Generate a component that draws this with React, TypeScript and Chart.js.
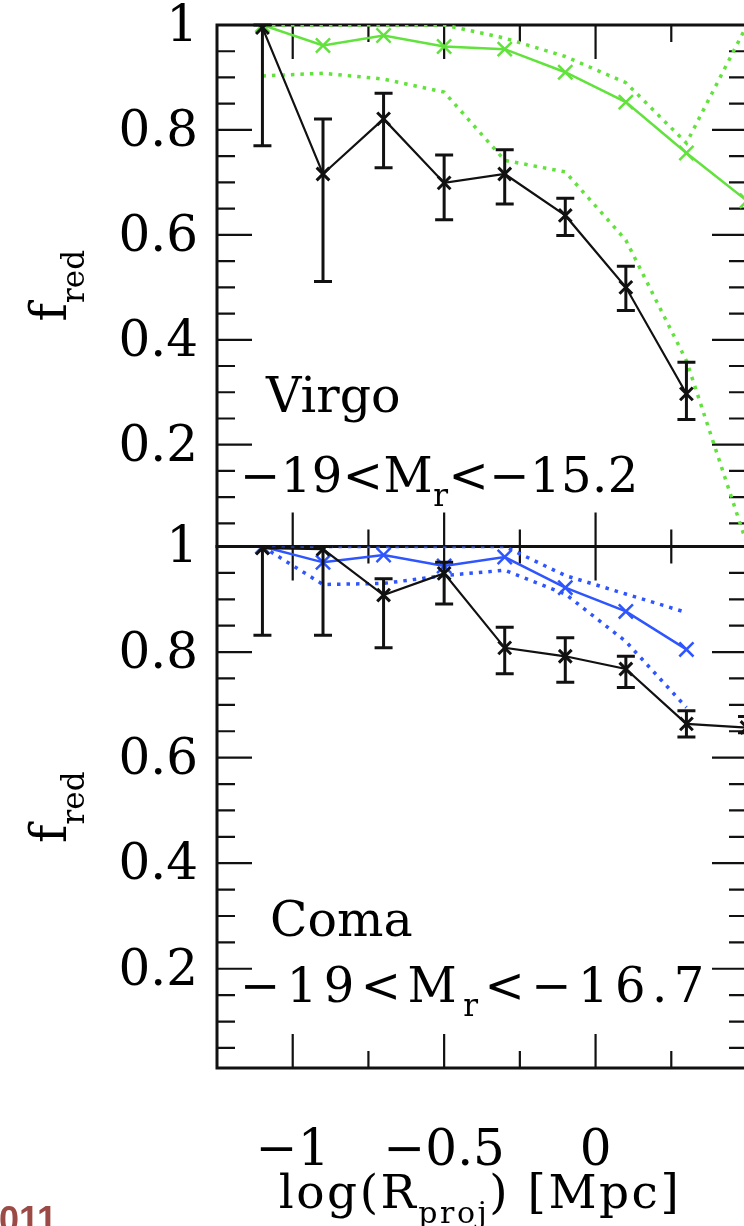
import React, { useEffect, useRef } from 'react';
import { Chart, registerables } from 'chart.js';

Chart.register(...registerables);

// ---- data ----
const R_BINS = [-1.1, -0.9, -0.7, -0.5, -0.3, -0.1, 0.1, 0.3, 0.5];
const X_TICK_LABELS = [-1, -0.5, 0];
const Y_TICK_LABELS = [0.2, 0.4, 0.6, 0.8, 1];

// Virgo (top panel)
const VIRGO_OBS = [0.995, 0.716, 0.821, 0.699, 0.716, 0.637, 0.5, 0.297];
const VIRGO_OBS_HI = [1.0, 0.821, 0.87, 0.752, 0.762, 0.67, 0.54, 0.357];
const VIRGO_OBS_LO = [0.77, 0.511, 0.728, 0.629, 0.659, 0.599, 0.456, 0.248];
const VIRGO_MODEL = [1.0, 0.961, 0.98, 0.959, 0.954, 0.91, 0.853, 0.756, 0.665];
const VIRGO_MODEL_UP = [1.0, 1.0, 1.0, 1.0, 0.975, 0.94, 0.89, 0.775, 1.0];
const VIRGO_MODEL_LO = [0.903, 0.908, 0.897, 0.872, 0.742, 0.72, 0.59, 0.36, 0.01];

// Coma (bottom panel)
const COMA_OBS = [0.997, 0.995, 0.908, 0.949, 0.808, 0.792, 0.768, 0.664, 0.657];
const COMA_OBS_HI = [1.0, 1.0, 0.939, 0.97, 0.847, 0.827, 0.792, 0.689, 0.678];
const COMA_OBS_LO = [0.832, 0.832, 0.808, 0.891, 0.759, 0.743, 0.733, 0.639, 0.647];
const COMA_MODEL = [1.0, 0.97, 0.984, 0.963, 0.98, 0.922, 0.877, 0.805];
const COMA_MODEL_UP = [1.0, 1.0, 1.0, 1.0, 1.0, 0.945, 0.91, 0.875];
const COMA_MODEL_LO = [1.0, 0.928, 0.93, 0.945, 0.955, 0.91, 0.82, 0.695];

// ---- styles ----
const FONT = '"DejaVu Serif", serif';
const GREEN = '#62e23c';
const BLUE = '#2f55ff';
const BLACK = '#111111';

const pts = (ys: number[]) => ys.map((y, i) => ({ x: R_BINS[i], y }));

function fmt(v: number): string {
  if (v === 0) return '0';
  return (v < 0 ? '\u2212' : '') + String(Math.abs(v));
}

type Part = { t: string; sub?: boolean };

function drawRich(
  ctx: CanvasRenderingContext2D,
  parts: Part[],
  x: number,
  y: number,
  size: number,
  subSize: number,
  subDy: number,
  align: 'left' | 'center' = 'left',
  spacing = 0
) {
  ctx.textAlign = 'left';
  ctx.textBaseline = 'alphabetic';
  const c: any = ctx;
  c.letterSpacing = `${spacing}px`;
  let w = 0;
  const ws: number[] = [];
  for (const p of parts) {
    ctx.font = `${p.sub ? subSize : size}px ${FONT}`;
    const m = ctx.measureText(p.t).width;
    ws.push(m);
    w += m;
  }
  let cx = align === 'center' ? x - w / 2 : x;
  parts.forEach((p, i) => {
    ctx.font = `${p.sub ? subSize : size}px ${FONT}`;
    ctx.fillText(p.t, cx, y + (p.sub ? subDy : 0));
    cx += ws[i];
  });
  c.letterSpacing = '0px';
}

function clipPanel(ctx: CanvasRenderingContext2D, ca: any, ys: any) {
  ctx.beginPath();
  ctx.rect(ca.left, ys.top - 2, ca.right - ca.left, ys.bottom - ys.top + 4);
  ctx.clip();
}

const panelPlugin = {
  id: 'panelPlugin',
  beforeDatasetsDraw(chart: any) {
    // frames and inward ticks (drawn under the data)
    const ctx = chart.ctx as CanvasRenderingContext2D;
    const ca = chart.chartArea;
    const xs = chart.scales.x;
    ctx.save();
    ctx.strokeStyle = BLACK;
    for (const id of ['yTop', 'yBot']) {
      const ys = chart.scales[id];
      const top = ys.top;
      const bot = ys.bottom;
      const left = ca.left;
      const right = ca.right;
      ctx.lineWidth = 2.2;
      ctx.beginPath();
      for (let k = 1; k < 7; k++) {
        const v = -1.25 + k * 0.25;
        const px = xs.getPixelForValue(v);
        const major = Math.abs(v * 2 - Math.round(v * 2)) < 1e-6;
        const len = major ? 34 : 17;
        ctx.moveTo(px, top);
        ctx.lineTo(px, top + len);
        ctx.moveTo(px, bot);
        ctx.lineTo(px, bot - len);
      }
      for (let k = 1; k < 20; k++) {
        const v = k * 0.05;
        const py = ys.getPixelForValue(v);
        const len = k % 4 === 0 ? 35 : 18;
        ctx.moveTo(left, py);
        ctx.lineTo(left + len, py);
        ctx.moveTo(right, py);
        ctx.lineTo(right - len, py);
      }
      ctx.stroke();
      ctx.lineWidth = 3;
      ctx.strokeRect(left, top, right - left, bot - top);
    }
    ctx.restore();
  },
  beforeDatasetDraw(chart: any, args: any) {
    const ys = chart.scales[args.meta.yAxisID];
    const ctx = chart.ctx;
    ctx.save();
    clipPanel(ctx, chart.chartArea, ys);
  },
  afterDatasetDraw(chart: any) {
    chart.ctx.restore();
  },
  afterDatasetsDraw(chart: any) {
    const ctx = chart.ctx as CanvasRenderingContext2D;
    const ca = chart.chartArea;
    const xs = chart.scales.x;

    // error bars
    chart.data.datasets.forEach((ds: any) => {
      if (!ds.errLow) return;
      const ys = chart.scales[ds.yAxisID];
      ctx.save();
      clipPanel(ctx, ca, ys);
      ctx.strokeStyle = ds.borderColor;
      ctx.lineWidth = 3;
      ds.errLow.forEach((lo: number, j: number) => {
        const hi = ds.errHigh[j];
        const px = xs.getPixelForValue(R_BINS[j]);
        const pl = ys.getPixelForValue(lo);
        const ph = ys.getPixelForValue(hi);
        ctx.beginPath();
        ctx.moveTo(px, pl);
        ctx.lineTo(px, ph);
        ctx.moveTo(px - 9, pl);
        ctx.lineTo(px + 9, pl);
        ctx.moveTo(px - 9, ph);
        ctx.lineTo(px + 9, ph);
        ctx.stroke();
      });
      ctx.restore();
    });
  },
  afterDraw(chart: any) {
    const ctx = chart.ctx as CanvasRenderingContext2D;
    const ca = chart.chartArea;
    const xs = chart.scales.x;
    const yt = chart.scales.yTop;
    const yb = chart.scales.yBot;
    ctx.save();
    ctx.fillStyle = '#000';

    // panel annotations
    drawRich(ctx, [{ t: 'Virgo' }], xs.getPixelForValue(-1.088), yt.getPixelForValue(0.263), 49, 30, 14);
    drawRich(
      ctx,
      [{ t: '\u221219<M' }, { t: 'r', sub: true }, { t: '<\u221215.2' }],
      xs.getPixelForValue(-1.174),
      yt.getPixelForValue(0.109),
      48, 31, 14, 'left', 0.5
    );
    drawRich(ctx, [{ t: 'Coma' }], xs.getPixelForValue(-1.075), yb.getPixelForValue(0.262), 49, 30, 14);
    drawRich(
      ctx,
      [{ t: '\u221219<M' }, { t: 'r', sub: true }, { t: '<\u221216.7' }],
      xs.getPixelForValue(-1.174),
      yb.getPixelForValue(0.137),
      48, 31, 14, 'left', 6.5
    );

    // y-axis titles (rotated)
    for (const ys of [yt, yb]) {
      ctx.save();
      ctx.translate(66, (ys.top + ys.bottom) / 2);
      ctx.rotate(-Math.PI / 2);
      drawRich(ctx, [{ t: 'f' }, { t: 'red', sub: true }], 0, 0, 50, 31, 18, 'center');
      ctx.restore();
    }

    // x-axis title
    drawRich(
      ctx,
      [{ t: 'log(R' }, { t: 'proj', sub: true }, { t: ') [Mpc]' }],
      (ca.left + ca.right) / 2 - 2,
      xs.top + 140,
      47, 30, 15, 'center', 2.5
    );

    // slide footer fragment
    ctx.font = 'bold 36px "Liberation Sans", sans-serif';
    ctx.fillStyle = '#9c4a45';
    ctx.textAlign = 'left';
    ctx.textBaseline = 'top';
    ctx.fillText('2011', -21, 1204);
    ctx.restore();
  },
};

export default function App() {
  const ref = useRef<HTMLCanvasElement | null>(null);

  useEffect(() => {
    if (!ref.current) return;
    const tickFont = { family: FONT, size: 50, lineHeight: 1 };
    const yAxis = (min: number, weight: number) => ({
      type: 'linear' as const,
      position: 'left' as const,
      stack: 'panels',
      stackWeight: 1,
      weight,
      min,
      max: 1,
      grid: { display: false, drawTicks: false },
      border: { display: false },
      ticks: {
        font: tickFont,
        color: '#000',
        padding: 19,
        autoSkip: false,
        labelOffset: 3,
        callback: (v: any) => fmt(Number(v)),
      },
      afterBuildTicks: (s: any) => {
        s.ticks = Y_TICK_LABELS.map((v) => ({ value: v }));
      },
      afterFit: (s: any) => {
        s.width = 217;
        s.paddingTop = 0;
        s.paddingBottom = 0;
      },
    });

    const obsStyle = {
      borderColor: BLACK,
      borderWidth: 2.2,
      pointStyle: 'crossRot',
      pointRadius: 9,
      pointBorderWidth: 3,
      pointBorderColor: BLACK,
    };
    const modelStyle = (c: string) => ({
      borderColor: c,
      borderWidth: 2.5,
      pointStyle: 'crossRot',
      pointRadius: 10,
      pointBorderWidth: 2.5,
      pointBorderColor: c,
    });
    const dotStyle = (c: string) => ({
      borderColor: c,
      borderWidth: 3.5,
      borderDash: [3.5, 6],
      pointRadius: 0,
    });

    const chart = new Chart(ref.current, {
      type: 'line',
      data: {
        datasets: [
          { data: pts(VIRGO_OBS), yAxisID: 'yTop', ...obsStyle, errLow: VIRGO_OBS_LO, errHigh: VIRGO_OBS_HI } as any,
          { data: pts(COMA_OBS), yAxisID: 'yBot', ...obsStyle, errLow: COMA_OBS_LO, errHigh: COMA_OBS_HI } as any,
          { data: pts(VIRGO_MODEL), yAxisID: 'yTop', ...modelStyle(GREEN) } as any,
          { data: pts(VIRGO_MODEL_UP), yAxisID: 'yTop', ...dotStyle(GREEN) } as any,
          { data: pts(VIRGO_MODEL_LO), yAxisID: 'yTop', ...dotStyle(GREEN) } as any,
          { data: pts(COMA_MODEL), yAxisID: 'yBot', ...modelStyle(BLUE) } as any,
          { data: pts(COMA_MODEL_UP), yAxisID: 'yBot', ...dotStyle(BLUE) } as any,
          { data: pts(COMA_MODEL_LO), yAxisID: 'yBot', ...dotStyle(BLUE) } as any,
        ],
      },
      options: {
        responsive: false,
        animation: false,
        layout: { padding: { top: 25, right: 13, left: 0, bottom: 0 } },
        plugins: { legend: { display: false }, tooltip: { enabled: false } },
        elements: { line: { tension: 0, fill: false } },
        scales: {
          x: {
            type: 'linear',
            position: 'bottom',
            min: -1.25,
            max: 0.5,
            grid: { display: false, drawTicks: false },
            border: { display: false },
            ticks: {
              font: tickFont,
              color: '#000',
              padding: 59,
              autoSkip: false,
              maxRotation: 0,
              callback: (v: any) => fmt(Number(v)),
            },
            afterBuildTicks: (s: any) => {
              s.ticks = X_TICK_LABELS.map((v) => ({ value: v }));
            },
            afterFit: (s: any) => {
              s.height = 158;
              s.paddingLeft = 0;
              s.paddingRight = 0;
            },
          },
          yTop: yAxis(0.006, 2),
          yBot: yAxis(0.012, 1),
        } as any,
      },
      plugins: [panelPlugin],
    });
    return () => chart.destroy();
  }, []);

  return (
    <div
      style={{
        position: 'absolute',
        left: 0,
        top: 0,
        width: 744,
        height: 1226,
        overflow: 'hidden',
        background: '#fff',
      }}
    >
      <canvas ref={ref} width={760} height={1226} style={{ display: 'block', width: 760, height: 1226 }} />
    </div>
  );
}
